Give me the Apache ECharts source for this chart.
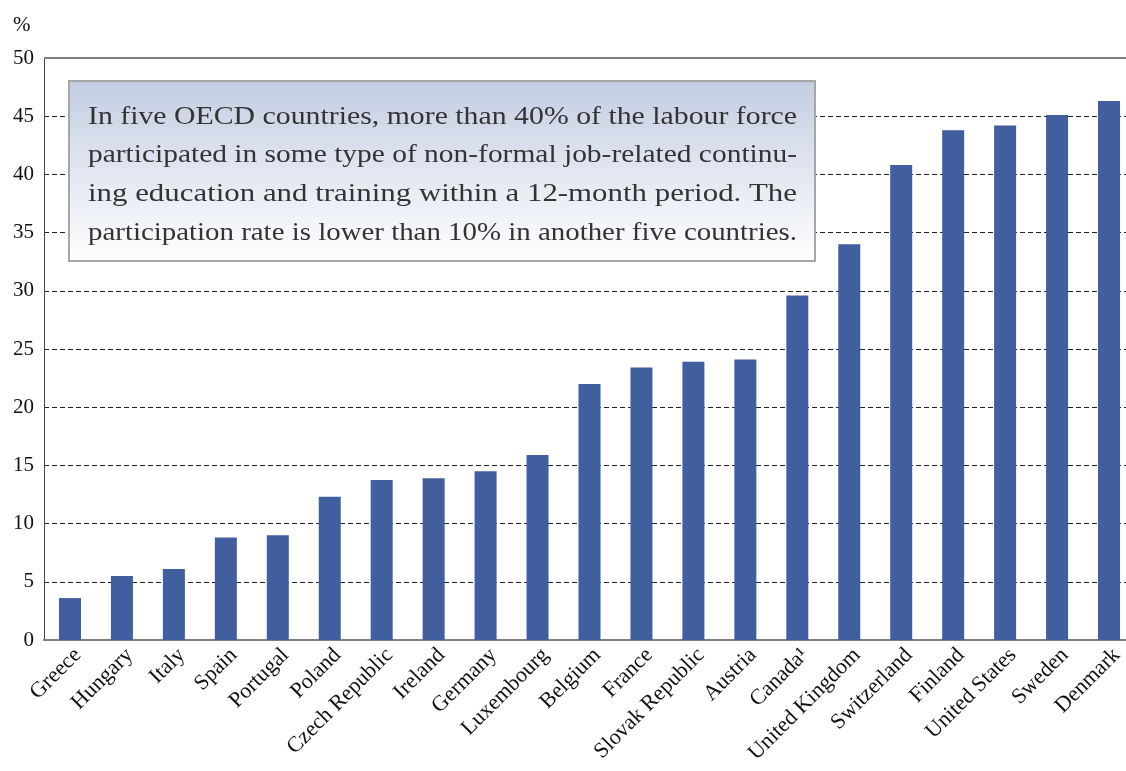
<!DOCTYPE html>
<html>
<head>
<meta charset="utf-8">
<script src="https://cdn.jsdelivr.net/npm/echarts@6/dist/echarts.min.js"></script>
<style>
html,body{margin:0;padding:0;background:#fff;overflow:hidden;width:1126px;height:771px;}
#c{width:1135px;height:771px;}
</style>
</head>
<body>
<div id="c"></div>
<script>
const categories = ["Greece","Hungary","Italy","Spain","Portugal","Poland","Czech Republic","Ireland","Germany","Luxembourg","Belgium","France","Slovak Republic","Austria","Canada¹","United Kingdom","Switzerland","Finland","United States","Sweden","Denmark"];
const values = [3.6,5.5,6.1,8.8,9.0,12.3,13.75,13.9,14.5,15.9,22.0,23.4,23.9,24.1,29.6,34.0,40.8,43.8,44.2,45.1,46.3];
const yTicks = [0,5,10,15,20,25,30,35,40,45,50];
const unitLabel = "%";
const noteLines = [
  "In five OECD countries, more than 40% of the labour force",
  "participated in some type of non-formal job-related continu-",
  "ing education and training within a 12-month period. The",
  "participation rate is lower than 10% in another five countries."
];

const FONT = '"Liberation Serif","DejaVu Serif",serif';
const NOTE_FONT = '25px ' + FONT;
const ctx = document.createElement('canvas').getContext('2d');
ctx.font = NOTE_FONT;
const noteWidth = 709;
const noteGraphics = noteLines.map(function(t, i){
  const w = ctx.measureText(t).width;
  return {type:'text', x:88, y:117 + i*38.8, scaleX: noteWidth / w, z:21,
    style:{text:t, font:NOTE_FONT, fill:'#333', textVerticalAlign:'middle', textAlign:'left'}};
});

const chart = echarts.init(document.getElementById('c'));
chart.setOption({
  animation:false,
  backgroundColor:'#fff',
  grid:{left:44,right:0,top:58,bottom:131,containLabel:false},
  xAxis:{
    type:'category',
    data:categories,
    axisLine:{show:true,lineStyle:{color:'#808080',width:2}},
    axisTick:{show:false},
    axisLabel:{rotate:45,fontFamily:FONT,fontSize:22,color:'#111',margin:4,interval:0,verticalAlign:'top'},
    splitLine:{show:false}
  },
  yAxis:{
    type:'value',min:yTicks[0],max:yTicks[yTicks.length-1],interval:5,
    axisLine:{show:true,lineStyle:{color:'#444',width:1}},
    axisTick:{show:false},
    axisLabel:{fontFamily:FONT,fontSize:21,color:'#111',margin:10},
    splitLine:{show:true,lineStyle:{color:'#222',type:[5,3],width:1}}
  },
  series:[{
    type:'bar',data:values,barWidth:22,
    itemStyle:{color:'#415e9f'}
  }],
  graphic:[
    {type:'line',shape:{x1:44,y1:58,x2:1135,y2:58},style:{stroke:'#808080',lineWidth:2},z:10},
    {type:'text',left:13,top:15,style:{text:unitLabel,font:'21px '+FONT,fill:'#111'}},
    {type:'rect',shape:{x:69,y:81,width:746,height:180},
      style:{fill:new echarts.graphic.LinearGradient(0,0,0,1,[{offset:0,color:'#c3cde2'},{offset:1,color:'#ffffff'}]),stroke:'#a6a6a6',lineWidth:2},z:20}
  ].concat(noteGraphics)
});
</script>
</body>
</html>
